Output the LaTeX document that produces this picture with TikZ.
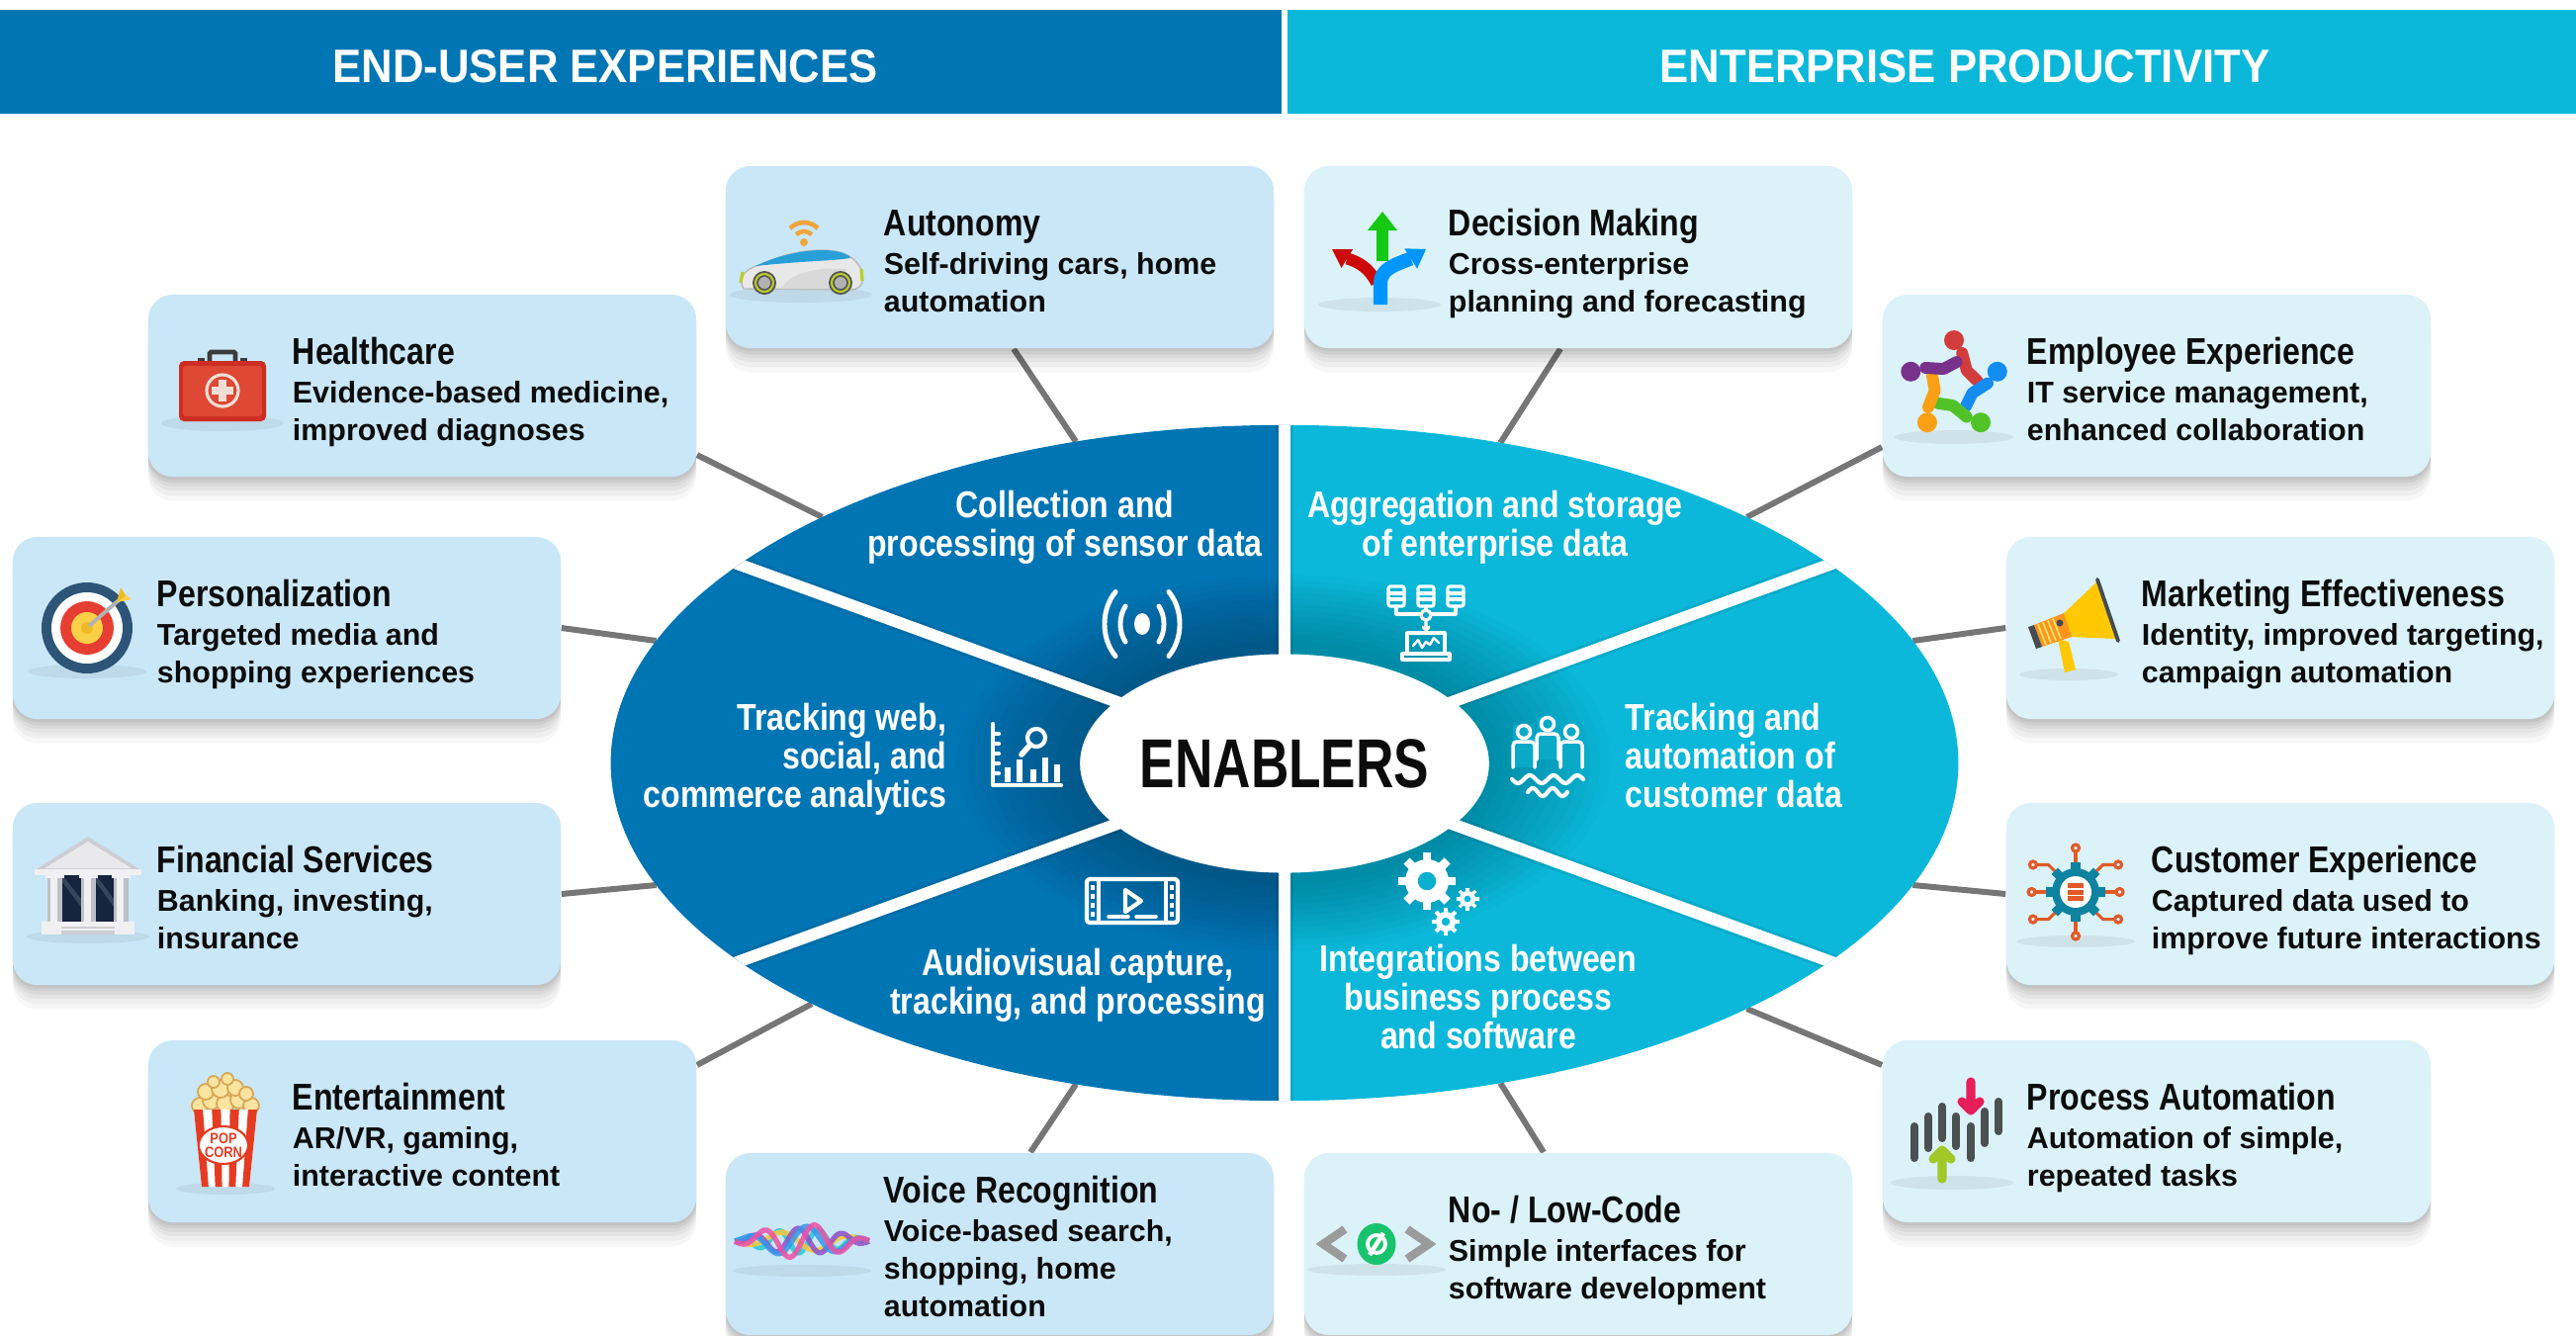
\documentclass[tikz,border=0pt]{standalone}
\usepackage{fontspec}
\setmainfont{Liberation Sans}
\newfontfamily\headfont{Liberation Sans}[FakeStretch=0.92]
\newfontfamily\condfont{Liberation Sans}[FakeStretch=0.85]
\newfontfamily\hubfont{Liberation Sans}[FakeStretch=0.76]
\usetikzlibrary{shapes.geometric}
\pgfdeclarelayer{bg}
\pgfdeclarelayer{back}
\pgfsetlayers{bg,back,main}

\definecolor{euBlue}{RGB}{0,117,180}
\definecolor{epCyan}{RGB}{11,184,217}
\definecolor{euCard}{RGB}{202,231,247}
\definecolor{epCard}{RGB}{219,242,248}
\definecolor{linkGray}{RGB}{118,118,118}
\definecolor{inkBlack}{RGB}{12,12,12}
\definecolor{wifiOr}{RGB}{240,165,60}
\definecolor{carBody}{RGB}{232,232,232}
\definecolor{carBlue}{RGB}{40,160,215}
\definecolor{carTire}{RGB}{85,85,85}
\definecolor{carLime}{RGB}{185,205,40}
\definecolor{kitRed}{RGB}{205,45,35}
\definecolor{kitRedL}{RGB}{222,72,52}
\definecolor{kitCross}{RGB}{240,222,214}
\definecolor{kitHandle}{RGB}{60,60,60}
\definecolor{tBlue}{RGB}{45,85,120}
\definecolor{tRed}{RGB}{230,62,50}
\definecolor{tYellow}{RGB}{250,208,70}
\definecolor{tYellowD}{RGB}{240,185,40}
\definecolor{bankNavy}{RGB}{22,36,62}
\definecolor{bankLight}{RGB}{240,240,242}
\definecolor{bankMid}{RGB}{205,206,212}
\definecolor{bankCol}{RGB}{190,192,198}
\definecolor{popRed}{RGB}{228,60,35}
\definecolor{popCream}{RGB}{250,228,160}
\definecolor{popEdge}{RGB}{215,165,85}
\definecolor{vPink}{RGB}{235,80,165}
\definecolor{vBlue}{RGB}{55,150,235}
\definecolor{vPurple}{RGB}{140,80,200}
\definecolor{vYellow}{RGB}{245,200,60}
\definecolor{vCyan}{RGB}{40,200,210}
\definecolor{decRed}{RGB}{205,10,10}
\definecolor{decGreen}{RGB}{20,200,20}
\definecolor{decBlue}{RGB}{0,150,255}
\definecolor{empRed}{RGB}{210,60,60}
\definecolor{empBlue}{RGB}{20,140,240}
\definecolor{empGreen}{RGB}{80,195,40}
\definecolor{empOrange}{RGB}{250,160,20}
\definecolor{empPurple}{RGB}{120,50,140}
\definecolor{megYellow}{RGB}{255,200,0}
\definecolor{megOrange}{RGB}{250,150,30}
\definecolor{megGray}{RGB}{70,75,80}
\definecolor{custTeal}{RGB}{15,130,160}
\definecolor{custOrange}{RGB}{225,90,40}
\definecolor{barGray}{RGB}{75,80,80}
\definecolor{arrPink}{RGB}{230,30,90}
\definecolor{arrGreen}{RGB}{160,200,40}
\definecolor{codeGray}{RGB}{155,155,155}
\definecolor{codeGreen}{RGB}{25,195,110}

% gear: centre x, centre y, body radius, tooth reach, hole colour
\newcommand\cog[5]{%
  \fill[white] (#1,#2) circle[radius=#3];
  \foreach \g in {0,45,...,315}
    \fill[white, rotate around={\g:(#1,#2)}] ({#1-0.2*#3},#2) rectangle ({#1+0.2*#3},{#2+#4});
  \fill[#5] (#1,#2) circle[radius={0.42*#3}];
}

\begin{document}
\begin{tikzpicture}[x=0.01cm, y=-0.01cm,
  card/.style={rectangle, rounded corners=0.25cm, minimum width=5.54cm, minimum height=1.84cm, inner sep=0pt,
    preaction={fill=black, opacity=0.03, transform canvas={yshift=-7pt}},
    preaction={fill=black, opacity=0.035, transform canvas={yshift=-5.5pt}},
    preaction={fill=black, opacity=0.04, transform canvas={yshift=-4pt}},
    preaction={fill=black, opacity=0.045, transform canvas={yshift=-2.8pt}},
    preaction={fill=black, opacity=0.05, transform canvas={yshift=-1.8pt}},
    preaction={fill=black, opacity=0.05, transform canvas={yshift=-0.9pt}}},
  eucard/.style={card, fill=euCard},
  epcard/.style={card, fill=epCard},
  ttl/.style={anchor=base west, inner sep=0pt, text=inkBlack, font=\condfont\bfseries\fontsize{10.73}{12}\selectfont},
  dsc/.style={anchor=base west, inner sep=0pt, align=left, text=inkBlack, font=\bfseries\fontsize{8.65}{10.81}\selectfont},
  sect/.style={inner sep=0pt, text=white, font=\condfont\bfseries\fontsize{10.73}{10.95}\selectfont},
  head/.style={anchor=base, inner sep=0pt, text=white, font=\headfont\bfseries\fontsize{13.5}{15}\selectfont},
  link/.style={draw=linkGray, line width=1.7pt},
  wline/.style={draw=white, line width=1.1pt, line cap=round, line join=round},
  ishadow/.style={fill=black, opacity=0.06},
  popword/.style={text=popRed, inner sep=0pt, font=\condfont\bfseries\fontsize{4.3}{4.6}\selectfont},
]
\useasboundingbox (0,0) rectangle (2605,1351);
\begin{pgfonlayer}{bg}
  \fill[white] (0,0) rectangle (2605,1351);
\end{pgfonlayer}

% ---------- header bands ----------
\fill[euBlue] (0,10) rectangle (1296,115);
\fill[epCyan] (1302,10) rectangle (2605,115);
\node[head] (hl) at (612,83) {END-USER EXPERIENCES};
\node[head] (hr) at (1987,83) {ENTERPRISE PRODUCTIVITY};

% ---------- central disc ----------
\node[ellipse, minimum width=13.62cm, minimum height=6.83cm, inner sep=0pt, outer sep=0pt] (ring) at (1299,771.5) {};
\begin{scope}
  \clip (0,0) rectangle (1299,1351);
  \fill[euBlue] (ring.center) ellipse[x radius=6.81cm, y radius=3.415cm];
\end{scope}
\begin{scope}
  \clip (1299,0) rectangle (2605,1351);
  \fill[epCyan] (ring.center) ellipse[x radius=6.81cm, y radius=3.415cm];
\end{scope}
\begin{scope}
  \clip (ring.center) ellipse[x radius=6.81cm, y radius=3.415cm];
  % soft darkening around the hub
  \foreach \k in {0,...,11}
    \fill[black, opacity=0.018] (ring.center) ellipse[x radius={(3.3-0.11*\k)*1cm}, y radius={(1.9-0.06*\k)*1cm}];
  \foreach \a in {20,160,200,340}
    {\draw[black, opacity=0.07, line width=5pt] (ring.center) -- ++(\a:8cm);
     \draw[white, line width=3.4pt] (ring.center) -- ++(\a:8cm);}
  \draw[black, opacity=0.07, line width=5pt] (1299,0) -- (1299,1351);
  \draw[white, line width=3.4pt] (1299,0) -- (1299,1351);
\end{scope}
\node[ellipse, fill=white, minimum width=4cm, minimum height=2.21cm, inner sep=0pt, text=inkBlack,
      font=\hubfont\bfseries\fontsize{19.9}{22}\selectfont] (core) at (1299,772) {ENABLERS};

% ---------- sector labels (base = last line) ----------
\node[sect, align=center, anchor=base] (s1) at (1077,562) {Collection and\\processing of sensor data};
\node[sect, align=center, anchor=base] (s2) at (1512,562) {Aggregation and storage\\of enterprise data};
\node[sect, align=right, anchor=base east] (s3) at (958,816) {Tracking web,\\social, and\\commerce analytics};
\node[sect, align=left, anchor=base west] (s4) at (1643,816) {Tracking and\\automation of\\customer data};
\node[sect, align=center, anchor=base] (s5) at (1090,1025) {Audiovisual capture,\\tracking, and processing};
\node[sect, align=center, anchor=base] (s6) at (1495,1060) {Integrations between\\business process\\and software};

% ---------- sector icons ----------
% broadcast
\begin{scope}[shift={(1155,631)}, x=0.01cm, y=0.01cm]
  \fill[white] (0,0) ellipse[x radius=0.08cm, y radius=0.11cm];
  \draw[wline, line width=1.4pt] (-16.9,18) arc[start angle=140, end angle=220, x radius=22, y radius=28];
  \draw[wline, line width=1.4pt] (-26.9,32.5) arc[start angle=135, end angle=225, x radius=38, y radius=46];
  \draw[wline, line width=1.4pt] (16.9,-18) arc[start angle=-40, end angle=40, x radius=22, y radius=28];
  \draw[wline, line width=1.4pt] (26.9,-32.5) arc[start angle=-45, end angle=45, x radius=38, y radius=46];
\end{scope}
% databases feeding a laptop
\begin{scope}[shift={(1442,628)}, x=0.01cm, y=0.01cm]
  \foreach \cx in {-30,0,30} {
    \draw[wline, line width=0.9pt, rounded corners=0.02cm] ({\cx-8},15) rectangle ({\cx+8},35);
    \draw[wline, line width=0.9pt] ({\cx-8},22) -- ({\cx+8},22) ({\cx-8},28) -- ({\cx+8},28);
  }
  \draw[wline, line width=0.9pt] (-30,15) -- (-30,7) -- (-5,7) (30,15) -- (30,7) -- (5,7) (0,15) -- (0,11);
  \draw[wline, line width=0.9pt] (0,6) circle[radius=5];
  \draw[wline, line width=0.9pt] (0,1) -- (0,-9) (-3,-6) -- (0,-9) -- (3,-6);
  \draw[wline, line width=0.9pt] (-19,-12) rectangle (19,-33);
  \draw[wline, line width=0.9pt] (-24,-33) -- (24,-33) -- (24,-39) -- (-24,-39) -- cycle;
  \draw[wline, line width=0.7pt] (-13,-25) -- (-8,-19) -- (-4,-27) -- (0,-21) -- (4,-24) -- (8,-17) -- (13,-22);
\end{scope}
% analytics chart
\begin{scope}[shift={(1038,764)}, x=0.01cm, y=0.01cm]
  \draw[wline, line width=1.2pt] (-34,32) -- (-34,-30) -- (35,-30);
  \foreach \ty in {22,12,2,-8,-18} \draw[wline, line width=1.2pt] (-34,\ty) -- (-28,\ty);
  \fill[white] (-22,-27) rectangle (-16,-12);
  \fill[white] (-10,-27) rectangle (-4,-4);
  \fill[white] (4,-27) rectangle (10,-14);
  \fill[white] (16,-27) rectangle (22,-2);
  \fill[white] (28,-27) rectangle (34,-9);
  \draw[wline, line width=1.2pt] (10,18) circle[radius=9];
  \draw[wline, line width=1.6pt] (4,11) -- (-5,1);
\end{scope}
% people over waves
\begin{scope}[shift={(1565,768)}, x=0.01cm, y=0.01cm]
  \foreach \px/\py in {-24/8, 24/8, 0/16} {
    \fill[epCyan!92!black] ({\px-11},{\py-16}) rectangle ({\px+11},{\py+27});
    \draw[wline, line width=1pt] (\px,{\py+20}) circle[radius=6.5];
    \draw[wline, line width=1pt, rounded corners=0.04cm] ({\px-11},{\py-16}) -- ({\px-11},{\py+10}) -- ({\px+11},{\py+10}) -- ({\px+11},{\py-16});
  }
  \draw[wline, line width=1.2pt, domain=-36:36, samples=40, smooth] plot (\x, {-20+4*sin(\x*15)});
  \draw[wline, line width=1.2pt, domain=-20:20, samples=30, smooth] plot (\x, {-33+4*sin(\x*18)});
\end{scope}
% video strip
\begin{scope}[shift={(1145,911)}, x=0.01cm, y=0.01cm]
  \draw[wline, line width=1.2pt, rounded corners=0.03cm] (-46,-22) rectangle (46,22);
  \draw[wline, line width=1.2pt] (-34,-22) -- (-34,22) (34,-22) -- (34,22);
  \foreach \hy in {-13,-4,5,14} {\fill[white] (-42,{\hy-2.5}) rectangle (-38,{\hy+2.5}); \fill[white] (38,{\hy-2.5}) rectangle (42,{\hy+2.5});}
  \draw[wline, line width=1.2pt] (-7,11) -- (9,0) -- (-7,-11) -- cycle;
  \draw[wline, line width=1pt] (-24,-16) -- (-4,-16) (4,-16) -- (24,-16);
\end{scope}
% gears
\begin{scope}[shift={(1457,905)}, x=0.01cm, y=0.01cm]
  \cog{-14}{14}{22}{29}{epCyan!95!black}
  \cog{27}{-4}{8}{11.5}{epCyan}
  \cog{5}{-27}{10}{14}{epCyan}
\end{scope}

% ---------- cards ----------
\node[eucard] (b1) at (1011,260) {};
\node[ttl] (t1) at ([xshift=1.6cm, yshift=-0.71cm]b1.north west) {Autonomy};
\node[dsc] (d1) at ([xshift=1.6cm, yshift=-1.48cm]b1.north west) {Self-driving cars, home\\automation};

\node[eucard] (b2) at (427,390) {};
\node[ttl] (t2) at ([xshift=1.46cm, yshift=-0.71cm]b2.north west) {Healthcare};
\node[dsc] (d2) at ([xshift=1.46cm, yshift=-1.48cm]b2.north west) {Evidence-based medicine,\\improved diagnoses};

\node[eucard] (b3) at (290,635) {};
\node[ttl] (t3) at ([xshift=1.46cm, yshift=-0.71cm]b3.north west) {Personalization};
\node[dsc] (d3) at ([xshift=1.46cm, yshift=-1.48cm]b3.north west) {Targeted media and\\shopping experiences};

\node[eucard] (b4) at (290,904) {};
\node[ttl] (t4) at ([xshift=1.46cm, yshift=-0.71cm]b4.north west) {Financial Services};
\node[dsc] (d4) at ([xshift=1.46cm, yshift=-1.48cm]b4.north west) {Banking, investing,\\insurance};

\node[eucard] (b5) at (427,1144) {};
\node[ttl] (t5) at ([xshift=1.46cm, yshift=-0.71cm]b5.north west) {Entertainment};
\node[dsc] (d5) at ([xshift=1.46cm, yshift=-1.48cm]b5.north west) {AR/VR, gaming,\\interactive content};

\node[eucard] (b6) at (1011,1258) {};
\node[ttl] (t6) at ([xshift=1.6cm, yshift=-0.51cm]b6.north west) {Voice Recognition};
\node[dsc] (d6) at ([xshift=1.6cm, yshift=-1.66cm]b6.north west) {Voice-based search,\\shopping, home\\automation};

\node[epcard] (b7) at (1596,260) {};
\node[ttl] (t7) at ([xshift=1.46cm, yshift=-0.71cm]b7.north west) {Decision Making};
\node[dsc] (d7) at ([xshift=1.46cm, yshift=-1.48cm]b7.north west) {Cross-enterprise\\planning and forecasting};

\node[epcard] (b8) at (2181,390) {};
\node[ttl] (t8) at ([xshift=1.46cm, yshift=-0.71cm]b8.north west) {Employee Experience};
\node[dsc] (d8) at ([xshift=1.46cm, yshift=-1.48cm]b8.north west) {IT service management,\\enhanced collaboration};

\node[epcard] (b9) at (2306,635) {};
\node[ttl] (t9) at ([xshift=1.37cm, yshift=-0.71cm]b9.north west) {Marketing Effectiveness};
\node[dsc] (d9) at ([xshift=1.37cm, yshift=-1.48cm]b9.north west) {Identity, improved targeting,\\campaign automation};

\node[epcard] (b10) at (2306,904) {};
\node[ttl] (t10) at ([xshift=1.47cm, yshift=-0.71cm]b10.north west) {Customer Experience};
\node[dsc] (d10) at ([xshift=1.47cm, yshift=-1.48cm]b10.north west) {Captured data used to\\improve future interactions};

\node[epcard] (b11) at (2181,1144) {};
\node[ttl] (t11) at ([xshift=1.46cm, yshift=-0.71cm]b11.north west) {Process Automation};
\node[dsc] (d11) at ([xshift=1.46cm, yshift=-1.48cm]b11.north west) {Automation of simple,\\repeated tasks};

\node[epcard] (b12) at (1596,1258) {};
\node[ttl] (t12) at ([xshift=1.46cm, yshift=-0.71cm]b12.north west) {No- / Low-Code};
\node[dsc] (d12) at ([xshift=1.46cm, yshift=-1.48cm]b12.north west) {Simple interfaces for\\software development};

% ---------- connectors ----------
\begin{pgfonlayer}{back}
  \draw[link] ([xshift=0.14cm]b1.south) -- (ring.123);
  \draw[link] ([yshift=-0.70cm]b2.east) -- (ring.152);
  \draw[link] (b3.east) -- (ring.169);
  \draw[link] (b4.east) -- (ring.191);
  \draw[link] ([yshift=0.67cm]b5.east) -- (ring.207);
  \draw[link] ([xshift=0.31cm]b6.north) -- (ring.237);
  \draw[link] ([xshift=-0.18cm]b7.south) -- (ring.56);
  \draw[link] ([yshift=-0.62cm]b8.west) -- (ring.28);
  \draw[link] (b9.west) -- (ring.11);
  \draw[link] (b10.west) -- (ring.349);
  \draw[link] ([yshift=0.67cm]b11.west) -- (ring.332);
  \draw[link] ([xshift=-0.35cm]b12.north) -- (ring.304);
\end{pgfonlayer}

% ---------- card icons ----------
% self-driving car
\begin{scope}[shift={(810,262)}, x=0.01cm, y=0.01cm]
  \fill[ishadow] (0,-36) ellipse[x radius=0.72cm, y radius=0.08cm];
  \fill[wifiOr] (3,17) circle[radius=4];
  \draw[wifiOr, line width=1.3pt] (3,17) ++(45:11) arc[start angle=45, end angle=135, radius=11];
  \draw[wifiOr, line width=1.3pt] (3,17) ++(45:20) arc[start angle=45, end angle=135, radius=20];
  \fill[carBody] (-58,-30) .. controls (-64,-20) and (-58,-10) .. (-42,-6) .. controls (-20,4) and (0,9) .. (22,9)
     .. controls (45,9) and (58,0) .. (62,-14) .. controls (64,-24) and (60,-31) .. (50,-31) -- cycle;
  \draw[gray!55, line width=0.4pt] (-58,-30) .. controls (-64,-20) and (-58,-10) .. (-42,-6) .. controls (-20,4) and (0,9) .. (22,9)
     .. controls (45,9) and (58,0) .. (62,-14) .. controls (64,-24) and (60,-31) .. (50,-31) -- cycle;
  \fill[carBlue] (-46,-7) .. controls (-25,3) and (0,9) .. (22,9) .. controls (38,9) and (48,5) .. (50,1)
     .. controls (30,-2) and (0,-2) .. (-46,-7) -- cycle;
  \fill[gray!30] (-20,-30) .. controls (-10,-12) and (20,-8) .. (45,-10) -- (45,-30) -- cycle;
  \draw[carLime, line width=0.9pt] (-59,-13) -- (-61,-24) (61,-10) -- (62,-22);
  \foreach \wx in {-37,40} {
    \fill[carTire] (\wx,-24) circle[radius=12];
    \draw[carLime, line width=0.6pt] (\wx,-24) circle[radius=9];
    \fill[gray!60] (\wx,-24) circle[radius=6];
  }
\end{scope}
% first-aid kit
\begin{scope}[shift={(225,390)}, x=0.01cm, y=0.01cm]
  \fill[ishadow] (0,-38) ellipse[x radius=0.62cm, y radius=0.08cm];
  \draw[kitHandle, line width=1.4pt, rounded corners=0.015cm] (-13,24) -- (-13,34) -- (13,34) -- (13,24);
  \fill[kitHandle] (-25,24) rectangle (-18,28);
  \fill[kitHandle] (18,24) rectangle (25,28);
  \fill[kitRed, rounded corners=0.05cm] (-44,-36) rectangle (44,25);
  \fill[kitRedL, rounded corners=0.03cm] (-40,-31) rectangle (40,20);
  \draw[kitCross, line width=0.9pt] (0,-5) circle[radius=16];
  \fill[kitCross] (-4,-16) rectangle (4,6);
  \fill[kitCross] (-11,-9) rectangle (11,-1);
\end{scope}
% target
\begin{scope}[shift={(88,635)}, x=0.01cm, y=0.01cm]
  \fill[ishadow] (0,-44) ellipse[x radius=0.6cm, y radius=0.07cm];
  \fill[tBlue] (0,0) circle[radius=46];
  \fill[white] (0,0) circle[radius=36];
  \fill[tRed] (0,0) circle[radius=27];
  \fill[tYellow] (0,0) circle[radius=16];
  \fill[tYellowD] (0,0) circle[radius=6];
  \draw[gray!60, line width=1.1pt] (2,2) -- (32,28);
  \fill[tYellow] (30,26) -- (45,29) -- (37,35) -- cycle;
  \fill[tYellowD] (30,26) -- (34,41) -- (39,33) -- cycle;
\end{scope}
% bank building
\begin{scope}[shift={(90,897)}, x=0.01cm, y=0.01cm]
  \fill[ishadow] (-1,-50) ellipse[x radius=0.62cm, y radius=0.07cm];
  \fill[bankMid] (-55,17) -- (-1,51) -- (53,17) -- cycle;
  \fill[bankLight!80!bankMid] (-45,19) -- (-1,46) -- (43,19) -- cycle;
  \fill[bankLight] (-55,12) rectangle (53,18);
  \fill[bankNavy] (-36,-35) rectangle (34,12);
  \fill[white, opacity=0.15] (-27,5) -- (-8,-20) -- (-8,-12) -- (-27,12) -- cycle;
  \fill[white, opacity=0.15] (7,5) -- (25,-20) -- (25,-12) -- (7,12) -- cycle;
  \foreach \cl in {-42,-8,25} {
    \fill[bankCol] (\cl,-35) rectangle ({\cl+15},12);
    \fill[bankLight] ({\cl+3},-35) rectangle ({\cl+10},12);
    \fill[bankLight] ({\cl-2},9) rectangle ({\cl+17},13);
  }
  \fill[bankLight] (-48,-48) rectangle (46,-35);
  \fill[bankMid] (-28,-48) rectangle (26,-44);
  \fill[bankMid] (-28,-42) rectangle (26,-40);
\end{scope}
% popcorn bucket
\begin{scope}[shift={(228,1144)}, x=0.01cm, y=0.01cm]
  \fill[ishadow] (0,-58) ellipse[x radius=0.5cm, y radius=0.06cm];
  \foreach \ppx/\ppy/\ppr in {-26/26/8, -14/31/9, 0/28/9, 14/32/9, 26/26/8, -20/40/8, -5/43/9, 10/44/8, 21/38/7, 2/53/6, -12/50/6} {
    \fill[popCream] (\ppx,\ppy) circle[radius=\ppr];
    \draw[popEdge, line width=0.5pt] (\ppx,\ppy) circle[radius=\ppr];
  }
  \fill[white] (-24,-56) -- (24,-56) -- (32,22) -- (-32,22) -- cycle;
  \foreach \st in {0,2,4,6}
    \fill[popRed] ({-24+6.857*\st},-56) -- ({-24+6.857*(\st+1)},-56) -- ({-32+9.143*(\st+1)},22) -- ({-32+9.143*\st},22) -- cycle;
  \fill[white] (-2,-14) ellipse[x radius=0.25cm, y radius=0.19cm];
  \draw[popRed, line width=0.6pt] (-2,-14) ellipse[x radius=0.25cm, y radius=0.19cm];
  \node[popword, anchor=south] (popTop) at (-2,-13) {POP};
  \node[popword, anchor=north] (popBot) at (-2,-15) {CORN};
\end{scope}
% voice wave
\begin{scope}[shift={(811,1255)}, x=0.01cm, y=0.01cm]
  \fill[ishadow] (0,-30) ellipse[x radius=0.7cm, y radius=0.06cm];
  \foreach \wc/\amp/\fr/\ph in {vCyan/12/9/300, vYellow/10/5/200, vPurple/13/8/120, vBlue/15/6/60, vPink/17/7/0}
    \draw[\wc, line width=1.5pt, opacity=0.85, domain=-68:68, samples=90, smooth] plot (\x, {\amp*sin(\fr*\x+\ph)*cos(1.3*\x)});
\end{scope}
% decision arrows
\begin{scope}[shift={(1395,262)}, x=0.01cm, y=0.01cm]
  \fill[ishadow] (0,-46) ellipse[x radius=0.62cm, y radius=0.07cm];
  \draw[decRed, line width=3.4pt] (-3,-24) .. controls (-10,-10) and (-20,-3) .. (-32.7,0.5);
  \fill[decRed] (-48,10) -- (-26.9,9.9) -- (-38.5,-8.9) -- cycle;
  \fill[decGreen] (-3,-2) rectangle (9,29);
  \fill[decGreen] (-12,29) -- (18,29) -- (3,48) -- cycle;
  \draw[decBlue, line width=4pt] (1,-46) -- (1,-25) .. controls (1,-10) and (15,-6) .. (31.7,0.5);
  \fill[decBlue] (47,10) -- (25.3,10.7) -- (38.1,-9.7) -- cycle;
\end{scope}
% team circle
\begin{scope}[shift={(1976,390)}, x=0.01cm, y=0.01cm]
  \fill[ishadow] (0,-52) ellipse[x radius=0.6cm, y radius=0.07cm];
  \foreach \ang/\col in {90/empRed, 18/empBlue, -54/empGreen, -126/empOrange, 162/empPurple} {
    \fill[\col] (\ang:46) circle[radius=10];
    \draw[\col, line width=3.4pt, line cap=round, line join=round] ({\ang-14}:34) -- ({\ang-40}:20) -- ({\ang-78}:24);
  }
\end{scope}
% megaphone
\begin{scope}[shift={(2097,632)}, x=0.01cm, y=0.01cm]
  \fill[ishadow] (-5,-50) ellipse[x radius=0.5cm, y radius=0.06cm];
  \fill[megYellow] (-16,-14) -- (-5,-17) -- (2,-45) -- (-9,-48) -- cycle;
  \fill[megYellow] (-12,10) -- (24,44) -- (44,-14) -- (-4,-12) -- cycle;
  \draw[megGray, line width=1.1pt, line cap=round] (24,46) -- (45,-16);
  \fill[megOrange] (-40,0) -- (-10,12) -- (-2,-12) -- (-32,-22) -- cycle;
  \foreach \sk in {0,1,2,3} \draw[megYellow!60!white, line width=0.5pt] ({-36+5*\sk},{0.5+2*\sk}) -- ({-28+5*\sk},{-20+2*\sk});
  \fill[megGray] (-46,-2) -- (-40,0) -- (-32,-22) -- (-38,-24) -- cycle;
  \fill[megGray] (-14,2) circle[radius=3.5];
\end{scope}
% gear with circuit lines
\begin{scope}[shift={(2099,902)}, x=0.01cm, y=0.01cm]
  \fill[ishadow] (0,-50) ellipse[x radius=0.6cm, y radius=0.06cm];
  \foreach \ca in {0,90,180,270} {
    \draw[custOrange, line width=0.9pt] (\ca:28) -- (\ca:41);
    \draw[custOrange, line width=0.9pt] (\ca:44.5) circle[radius=3.5];
  }
  \foreach \ca/\sg in {45/1, 135/-1, 225/-1, 315/1} {
    \draw[custOrange, line width=0.9pt] (\ca:30) -- (\ca:39) -- ++({12*\sg},0) coordinate (cend);
    \draw[custOrange, line width=0.9pt] (cend) ++({3.5*\sg},0) circle[radius=3.5];
  }
  \fill[custTeal] (0,0) circle[radius=24];
  \foreach \ta in {0,45,...,315} \draw[custTeal, line width=2.6pt] (0,0) -- (\ta:30);
  \fill[white] (0,0) circle[radius=16];
  \fill[custOrange] (-8,4) rectangle (8,9);
  \fill[custOrange] (-8,-2.5) rectangle (8,2.5);
  \fill[custOrange] (-8,-9) rectangle (8,-4);
\end{scope}
% automation bars
\begin{scope}[shift={(1979,1144)}, x=0.01cm, y=0.01cm]
  \fill[ishadow] (-5,-52) ellipse[x radius=0.62cm, y radius=0.07cm];
  \foreach \bx/\bt/\bb in {-43/5/-27, -29/15/-17, -15/25/-7, -1/15/-15, 14/5/-27, 28/20/-12, 42/30/0}
    \draw[barGray, line width=2.3pt, line cap=round] (\bx,\bb) -- (\bx,\bt);
  \draw[arrPink, line width=2.6pt, line cap=round, line join=round] (14,50) -- (14,21) (5,30) -- (14,21) -- (23,30);
  \draw[arrGreen, line width=2.6pt, line cap=round, line join=round] (-15,-48) -- (-15,-19) (-24,-28) -- (-15,-19) -- (-6,-28);
\end{scope}
% code brackets
\begin{scope}[shift={(1392,1258)}, x=0.01cm, y=0.01cm]
  \fill[ishadow] (0,-26) ellipse[x radius=0.7cm, y radius=0.06cm];
  \draw[codeGray, line width=2.4pt] (-32,15) -- (-54,0) -- (-32,-15);
  \draw[codeGray, line width=2.4pt] (31,15) -- (53,0) -- (31,-15);
  \fill[codeGreen] (0,0) ellipse[x radius=0.195cm, y radius=0.21cm];
  \draw[white, line width=1.1pt] (0,0) circle[radius=9];
  \draw[white, line width=1.3pt] (-7,-11) -- (7,11);
\end{scope}
\end{tikzpicture}
\end{document}
